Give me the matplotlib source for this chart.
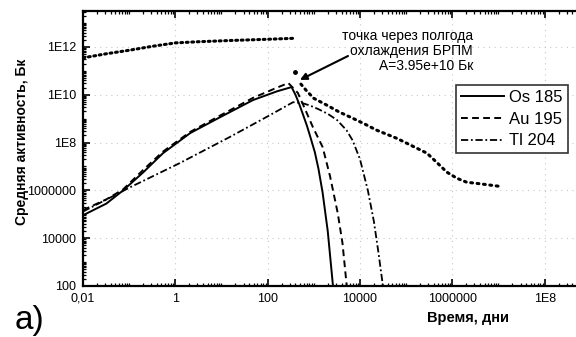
import numpy as np
import matplotlib
matplotlib.use("Agg")
import matplotlib.pyplot as plt
from matplotlib.ticker import FixedLocator, LogLocator, NullFormatter

plt.rcParams['font.family'] = ['Liberation Sans', 'DejaVu Sans']

# days and activity (Bq)
os_days = [0.01, 0.032, 0.074, 0.2, 0.54, 2.1, 9.3, 48, 160, 330,
           400, 480, 575, 710, 850, 1050, 1260, 1550, 2000, 2570, 2820]
os_act = [9.1e4, 2.8e5, 1.0e6, 5.6e6, 3.6e7, 2.5e8, 1.15e9, 6.0e9, 1.4e10, 2.1e10,
          1.0e10, 4.2e9, 1.6e9, 5.0e8, 1.6e8, 4.0e7, 8.0e6, 8.0e5, 2.0e4, 126, 30]

au_days = [0.01, 0.032, 0.074, 0.2, 0.54, 2.1, 9.3, 48, 160, 280,
           450, 630, 950, 1550, 2240, 3300, 4170, 5100, 5600]
au_act = [1.5e5, 4.2e5, 1.1e6, 7.1e6, 4.2e7, 2.8e8, 1.35e9, 7.4e9, 2.0e10, 3.1e10,
          1.2e10, 2.8e9, 4.5e8, 6.5e7, 4.0e6, 1.1e5, 6.3e3, 126, 30]

tl_days = [0.01, 0.105, 1.26, 15, 100, 355, 560, 810, 1260, 2000, 3200, 5100,
           6900, 10000, 14800, 20000, 25100, 30900, 34000]
tl_act = [1.3e5, 1.35e6, 1.4e7, 1.7e8, 1.25e9, 4.9e9, 4.5e9, 3.6e9, 2.5e9, 1.6e9,
          8.7e8, 3.3e8, 1.25e8, 2.0e7, 1.0e6, 5.0e4, 2.5e3, 126, 30]

brpm_days = [0.01, 0.032, 0.105, 0.32, 1.0, 3.2, 15, 100, 355]
brpm_act = [3.5e11, 5.2e11, 7.4e11, 1.07e12, 1.48e12, 1.66e12, 1.86e12, 2.1e12, 2.3e12]

cool_days = [525, 710, 1000, 1900, 3550, 6900, 12600, 23000, 63000, 138000, 282000,
             457000, 760000, 1260000, 2040000, 3890000, 1.0e7]
cool_act = [2.8e10, 1.4e10, 7.1e9, 3.7e9, 1.9e9, 1.05e9, 6.0e8, 3.3e8, 1.5e8, 7.1e7,
            3.6e7, 1.5e7, 5.8e6, 3.2e6, 2.2e6, 1.9e6, 1.5e6]

point_day = 400
point_act = 9.0e10
arrow_day = 500
arrow_act = 4.2e10

x_ticks = [1e-2, 1, 1e2, 1e4, 1e6, 1e8]
x_labels = ['0,01', '1', '100', '10000', '1000000', '1E8']
y_ticks = [1e2, 1e4, 1e6, 1e8, 1e10, 1e12]
y_labels = ['100', '10000', '1000000', '1E8', '1E10', '1E12']

W, H = 576, 337
fig = plt.figure(figsize=(W / 100, H / 100), dpi=100)
# axes runs past the right edge of the figure, like the scanned page
ax = fig.add_axes([83 / W, (H - 286) / H, 554 / W, 275 / H])
ax.set_xscale('log')
ax.set_yscale('log')
ax.set_xlim(1e-2, 1e10)
ax.set_ylim(1e2, 3.2e13)

ax.plot(os_days, os_act, color='black', lw=1.4, ls='-', label='Os 185')
ax.plot(au_days, au_act, color='black', lw=1.4, ls=(0, (3.5, 2.2)), label='Au 195')
ax.plot(tl_days, tl_act, color='black', lw=1.3, ls=(0, (4, 1.5, 1, 1.5)), label='Tl 204')
ax.plot(brpm_days, brpm_act, color='black', lw=2.2, ls=(0, (0.6, 1.2)),
        dash_capstyle='round')
ax.plot(cool_days, cool_act, color='black', lw=2.2, ls=(0, (0.6, 1.5)),
        dash_capstyle='round')
ax.plot([point_day], [point_act], 'o', color='black', ms=2.5)

ax.annotate('', xy=(arrow_day, arrow_act), xycoords='data',
            xytext=(348 / W, 1 - 56 / H), textcoords='figure fraction',
            arrowprops=dict(arrowstyle='-|>', color='black', lw=1.5,
                            mutation_scale=10, shrinkA=0, shrinkB=0))
fig.text(473 / W, 1 - 29 / H, 'точка через полгода\nохлаждения БРПМ\nA=3.95e+10 Бк',
         ha='right', va='top', multialignment='right', fontsize=10,
         linespacing=1.1)

ax.xaxis.set_major_locator(FixedLocator(x_ticks))
ax.set_xticklabels(x_labels)
ax.yaxis.set_major_locator(FixedLocator(y_ticks))
ax.set_yticklabels(y_labels)
ax.xaxis.set_minor_locator(LogLocator(base=10, subs=np.arange(1, 10), numticks=40))
ax.yaxis.set_minor_locator(LogLocator(base=10, subs=np.arange(1, 10), numticks=40))
ax.xaxis.set_minor_formatter(NullFormatter())
ax.yaxis.set_minor_formatter(NullFormatter())
ax.tick_params(which='both', direction='in', top=True, right=True, labelsize=9)
ax.tick_params(which='major', length=5, width=1.2, pad=5)
ax.tick_params(which='minor', length=2.5, width=0.9)
for s in ax.spines.values():
    s.set_linewidth(1.6)

ax.grid(True, which='major', color='#c8c8c8', ls=(0, (1, 4)), lw=0.8)

fig.text(468 / W, 1 - 318 / H, 'Время, дни', ha='center', va='center',
         fontsize=10.5, fontweight='bold')
fig.text(22 / W, 1 - 142 / H, 'Средняя активность, Бк', ha='center', va='center',
         rotation=90, fontsize=10, fontweight='bold')
fig.text(15 / W, 1 - 320 / H, 'а)', ha='left', va='center', fontsize=24)

leg = ax.legend(loc='upper right', bbox_to_anchor=(568 / W, 1 - 85 / H),
                bbox_transform=fig.transFigure, fontsize=12, frameon=True,
                fancybox=False, edgecolor='black', handlelength=2.6,
                handletextpad=0.3, borderpad=0.3, labelspacing=0.4,
                borderaxespad=0)
leg.get_frame().set_linewidth(1.2)

fig.savefig('out.png', dpi=100)
